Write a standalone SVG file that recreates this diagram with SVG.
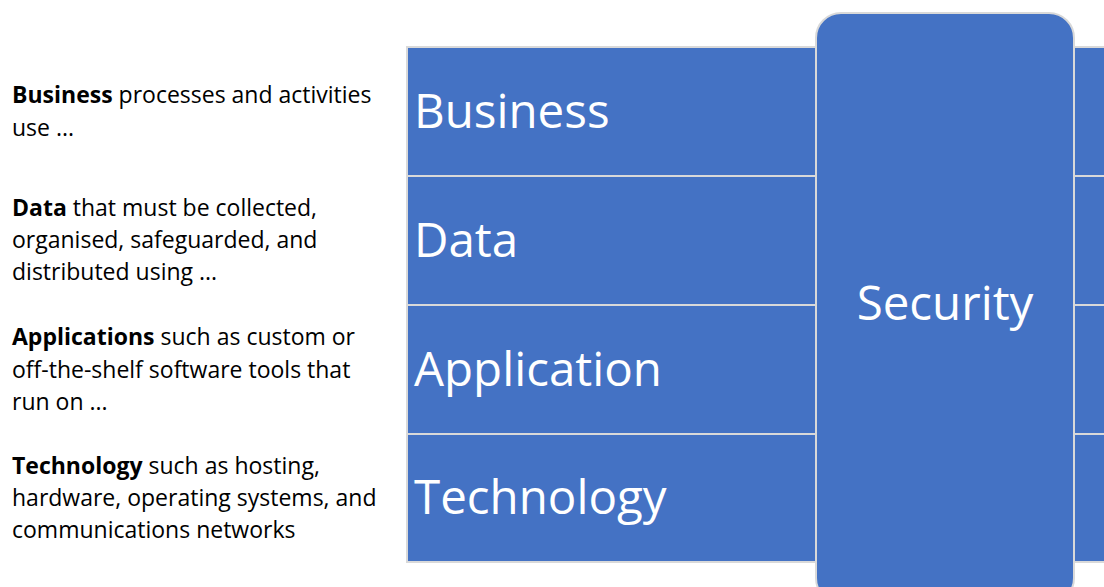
<svg xmlns="http://www.w3.org/2000/svg" width="1104" height="587" viewBox="0 0 1104 587">
<style>
.band{fill:#4472C4;stroke:#D9D9D9;stroke-width:2}
.lbl{fill:#fff;font-family:"Open Sans",sans-serif;font-size:47.5px}
.desc{fill:#000;font-family:"Open Sans",sans-serif;font-size:23px}
.desc tspan.b{font-weight:bold}
</style>
<rect width="1104" height="587" fill="#fff"/>
<g id="left-text">
<text class="desc" x="12" y="103"><tspan class="b">Business</tspan> processes and activities</text>
<text class="desc" x="12" y="136">use ...</text>
<text class="desc" x="12" y="216"><tspan class="b">Data</tspan> that must be collected,</text>
<text class="desc" x="12" y="248">organised, safeguarded, and</text>
<text class="desc" x="12" y="280">distributed using ...</text>
<text class="desc" x="12" y="345"><tspan class="b">Applications</tspan> such as custom or</text>
<text class="desc" x="12" y="378">off-the-shelf software tools that</text>
<text class="desc" x="12" y="410">run on ...</text>
<text class="desc" x="12" y="474"><tspan class="b">Technology</tspan> such as hosting,</text>
<text class="desc" x="12" y="506">hardware, operating systems, and</text>
<text class="desc" x="12" y="538">communications networks</text>
</g>
<g id="business"><rect class="band" x="407" y="47" width="420" height="129"/><rect class="band" x="1062" y="47" width="50" height="129"/><text class="lbl" x="414" y="128">Business</text></g>
<g id="data"><rect class="band" x="407" y="176" width="420" height="129"/><rect class="band" x="1062" y="176" width="50" height="129"/><text class="lbl" x="414" y="257">Data</text></g>
<g id="application"><rect class="band" x="407" y="305" width="420" height="129"/><rect class="band" x="1062" y="305" width="50" height="129"/><text class="lbl" x="414" y="386">Application</text></g>
<g id="technology"><rect class="band" x="407" y="434" width="420" height="128"/><rect class="band" x="1062" y="434" width="50" height="128"/><text class="lbl" x="414" y="514">Technology</text></g>
<g id="security"><rect class="band" x="816" y="13" width="258" height="590" rx="25" ry="25"/><text class="lbl" x="945" y="320" text-anchor="middle">Security</text></g>
<g id="connectors"/>
</svg>
